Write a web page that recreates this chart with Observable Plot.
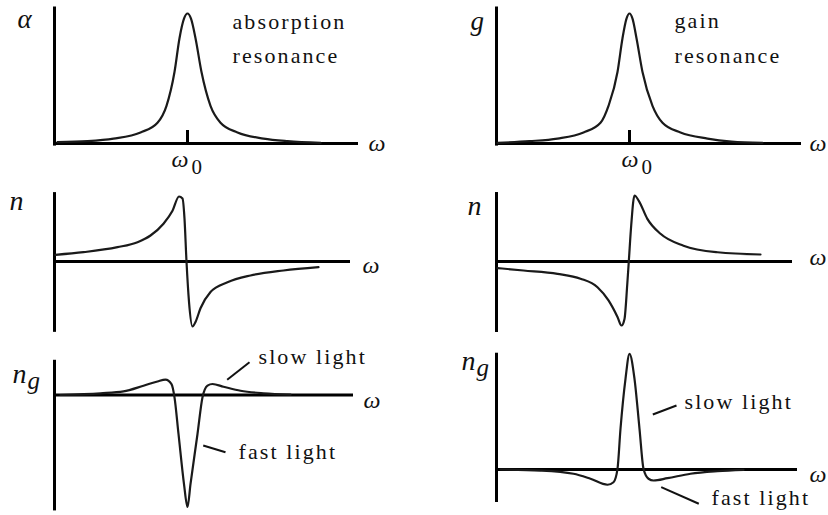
<!DOCTYPE html>
<html>
<head>
<meta charset="utf-8">
<script src="https://cdn.jsdelivr.net/npm/d3@7"></script>
<script src="https://cdn.jsdelivr.net/npm/@observablehq/plot@0.6"></script>
<style>
  html, body { margin: 0; background: #fff; }
  #fig { position: relative; width: 828px; height: 515px; overflow: hidden; background: #fff; }
  #fig svg { position: absolute; }
</style>
</head>
<body>
<div id="fig"></div>
<script>
// Frequency offsets (ω − ω0, arbitrary units) and the sketched response values.

// Absorption resonance: absorption coefficient α
const alphaOmega = [-13.0, -10.0, -7.4, -4.7, -3.0, -2.1, -1.3, -0.8, -0.35, 0, 0.35, 0.8, 1.4, 2.3, 3.3, 5.0, 7.6, 10.0, 13.3];
const alphaValue = [0.01, 0.018, 0.038, 0.085, 0.16, 0.29, 0.55, 0.81, 0.96, 1.0, 0.96, 0.81, 0.55, 0.29, 0.16, 0.085, 0.038, 0.018, 0.005];

// Gain resonance: gain coefficient g
const gainOmega = [-13.2, -10.0, -7.2, -4.6, -2.9, -2.1, -1.2, -0.7, -0.3, 0, 0.3, 0.7, 1.3, 2.3, 3.3, 5.1, 7.8, 10.2, 13.3];
const gainValue = [0.005, 0.018, 0.038, 0.085, 0.16, 0.29, 0.55, 0.81, 0.96, 1.0, 0.96, 0.81, 0.55, 0.29, 0.16, 0.085, 0.038, 0.015, 0.005];

// Refractive index n near the absorption line
const nAbsOmega = [-13.2, -10.4, -7.0, -5.0, -3.7, -2.4, -1.5, -0.85, -0.5, -0.3, -0.1, 0.15, 0.5, 0.8, 1.3, 2.3, 4.0, 6.3, 9.6, 13.1];
const nAbsValue = [0.103, 0.143, 0.22, 0.297, 0.40, 0.58, 0.78, 1.0, 0.97, 0.66, 0.0, -0.62, -1.0, -0.93, -0.72, -0.47, -0.32, -0.215, -0.138, -0.087];

// Refractive index n near the gain line
const nGainOmega = [-13.2, -10.6, -7.2, -4.9, -3.2, -2.1, -1.2, -0.8, -0.5, -0.23, -0.07, 0.17, 0.5, 0.93, 1.77, 3.1, 5.4, 8.8, 13.1];
const nGainValue = [-0.10, -0.136, -0.187, -0.26, -0.39, -0.59, -0.84, -0.97, -0.87, -0.36, 0, 0.545, 1.0, 0.92, 0.65, 0.42, 0.24, 0.14, 0.106];

// Group index ng near the absorption line
const ngAbsOmega = [-12.7, -8.7, -6.4, -4.4, -3.0, -2.2, -1.6, -1.3, -0.9, -0.35, 0, 0.3, 1.0, 1.5, 2.0, 2.5, 3.6, 5.3, 7.6, 10.3];
const ngAbsValue = [0, 0.015, 0.032, 0.083, 0.121, 0.137, 0.098, -0.021, -0.348, -0.795, -1.0, -0.795, -0.348, -0.021, 0.083, 0.098, 0.074, 0.038, 0.015, 0.003];

// Group index ng near the gain line
const ngGainOmega = [-12.9, -8.9, -5.6, -3.9, -2.2, -1.6, -1.2, -0.9, -0.4, 0, 0.5, 1.0, 1.4, 1.9, 2.4, 3.8, 6.1, 8.8, 11.4];
const ngGainValue = [0, -0.009, -0.037, -0.08, -0.132, -0.11, 0.006, 0.352, 0.784, 1.0, 0.784, 0.352, 0.006, -0.08, -0.095, -0.075, -0.037, -0.015, -0.003];

// ---------------------------------------------------------------------------
// Layout: two columns (absorption | gain), three rows (α/g, n, ng)
const PX_PER_OMEGA = 10;
const colLeft = [0, 414], colWidth = 414;
const rowTop = [0, 175, 340], rowHeight = [175, 165, 175];
const serif = "Liberation Serif";

const panels = [
  {
    col: 0, row: 0, cx: 187, base: 143, unit: 130,
    xDomain: [-13.3, 17.1], yDomain: [-0.02, 1.05],
    omega: alphaOmega, value: alphaValue, tick: true,
    labels: [
      {x: -17.0, y: 0.885, text: "α", size: 27, italic: true},
      {x: 4.5, y: 0.877, text: "absorption", size: 22},
      {x: 4.5, y: 0.623, text: "resonance", size: 22},
      {x: 18.1, y: -0.054, text: "ω", size: 24, italic: true},
      {x: -1.6, y: -0.178, text: "ω", size: 24, italic: true},
      {x: 0.4, y: -0.232, text: "0", size: 21}
    ],
    leaders: []
  },
  {
    col: 1, row: 0, cx: 629, base: 143, unit: 130,
    xDomain: [-13.3, 17.2], yDomain: [-0.02, 1.05],
    omega: gainOmega, value: gainValue, tick: true,
    labels: [
      {x: -15.9, y: 0.87, text: "g", size: 27, italic: true},
      {x: 4.5, y: 0.89, text: "gain", size: 22},
      {x: 4.5, y: 0.623, text: "resonance", size: 22},
      {x: 18.0, y: -0.054, text: "ω", size: 24, italic: true},
      {x: -0.8, y: -0.178, text: "ω", size: 24, italic: true},
      {x: 1.2, y: -0.232, text: "0", size: 21}
    ],
    leaders: []
  },
  {
    col: 0, row: 1, cx: 187, base: 261, unit: 65,
    xDomain: [-13.3, 16.3], yDomain: [-1.09, 1.06],
    omega: nAbsOmega, value: nAbsValue,
    labels: [
      {x: -17.8, y: 0.785, text: "n", size: 28, italic: true},
      {x: 17.5, y: -0.17, text: "ω", size: 24, italic: true}
    ],
    leaders: []
  },
  {
    col: 1, row: 1, cx: 629, base: 261, unit: 66,
    xDomain: [-13.3, 16.3], yDomain: [-1.076, 1.045],
    omega: nGainOmega, value: nGainValue,
    labels: [
      {x: -16.2, y: 0.697, text: "n", size: 28, italic: true},
      {x: 18.0, y: -0.06, text: "ω", size: 24, italic: true}
    ],
    leaders: []
  },
  {
    col: 0, row: 2, cx: 187, base: 394.5, unit: 112,
    xDomain: [-13.3, 16.6], yDomain: [-1.035, 0.31],
    omega: ngAbsOmega, value: ngAbsValue,
    labels: [
      {x: -17.5, y: 0.103, text: "n", size: 28, italic: true},
      {x: -16.0, y: 0.058, text: "g", size: 25, italic: true},
      {x: 17.6, y: -0.112, text: "ω", size: 24, italic: true},
      {x: 7.1, y: 0.281, text: "slow light", size: 22},
      {x: 5.1, y: -0.567, text: "fast light", size: 22}
    ],
    leaders: [
      {x1: 3.97, y1: 0.136, x2: 6.2, y2: 0.293},
      {x1: 1.57, y1: -0.451, x2: 3.8, y2: -0.511}
    ]
  },
  {
    col: 1, row: 2, cx: 629, base: 469, unit: 115.7,
    xDomain: [-13.3, 16.8], yDomain: [-0.285, 1.005],
    omega: ngGainOmega, value: ngGainValue,
    labels: [
      {x: -16.8, y: 0.856, text: "n", size: 28, italic: true},
      {x: -15.3, y: 0.812, text: "g", size: 25, italic: true},
      {x: 18.0, y: -0.112, text: "ω", size: 24, italic: true},
      {x: 5.5, y: 0.527, text: "slow light", size: 22},
      {x: 8.2, y: -0.311, text: "fast light", size: 22}
    ],
    leaders: [
      {x1: 2.33, y1: 0.475, x2: 4.7, y2: 0.553},
      {x1: 3.17, y1: -0.153, x2: 6.93, y2: -0.296}
    ]
  }
];

const fig = document.getElementById("fig");

for (const p of panels) {
  const [x0, x1] = p.xDomain;
  const [y0, y1] = p.yDomain;
  const left = colLeft[p.col], top = rowTop[p.row], height = rowHeight[p.row];
  const marginLeft = p.cx + x0 * PX_PER_OMEGA - left;
  const marginRight = left + colWidth - (p.cx + x1 * PX_PER_OMEGA);
  const marginTop = (p.base - y1 * p.unit) - top;
  const marginBottom = top + height - (p.base - y0 * p.unit);

  const curve = p.omega.map((w, i) => ({w, v: p.value[i]}));

  const marks = [
    // horizontal ω axis and vertical response axis
    Plot.ruleY([0], {stroke: "#000", strokeWidth: 3}),
    Plot.ruleX([x0], {stroke: "#000", strokeWidth: 3}),
    Plot.line(curve, {x: "w", y: "v", curve: "monotone-x", stroke: "#1a1a1a", strokeWidth: 2.2})
  ];
  if (p.tick) {
    marks.push(Plot.ruleX([0], {y1: 0, y2: 0.1, stroke: "#000", strokeWidth: 3}));
  }
  if (p.leaders.length) {
    marks.push(Plot.link(p.leaders, {x1: "x1", y1: "y1", x2: "x2", y2: "y2", stroke: "#111", strokeWidth: 2}));
  }
  for (const l of p.labels) {
    marks.push(Plot.text([l], {
      x: "x", y: "y", text: "text",
      fontSize: l.size,
      fontStyle: l.italic ? "italic" : "normal",
      fontFamily: serif,
      textAnchor: "start",
      lineAnchor: "bottom",
      fill: "#111"
    }));
  }

  const svg = Plot.plot({
    width: colWidth,
    height,
    marginLeft, marginRight, marginTop, marginBottom,
    x: {domain: p.xDomain, axis: null},
    y: {domain: p.yDomain, axis: null},
    style: {
      background: "transparent",
      overflow: "visible",
      letterSpacing: "2.1px",
      left: left + "px",
      top: top + "px"
    },
    marks
  });
  fig.appendChild(svg);
}
</script>
</body>
</html>
